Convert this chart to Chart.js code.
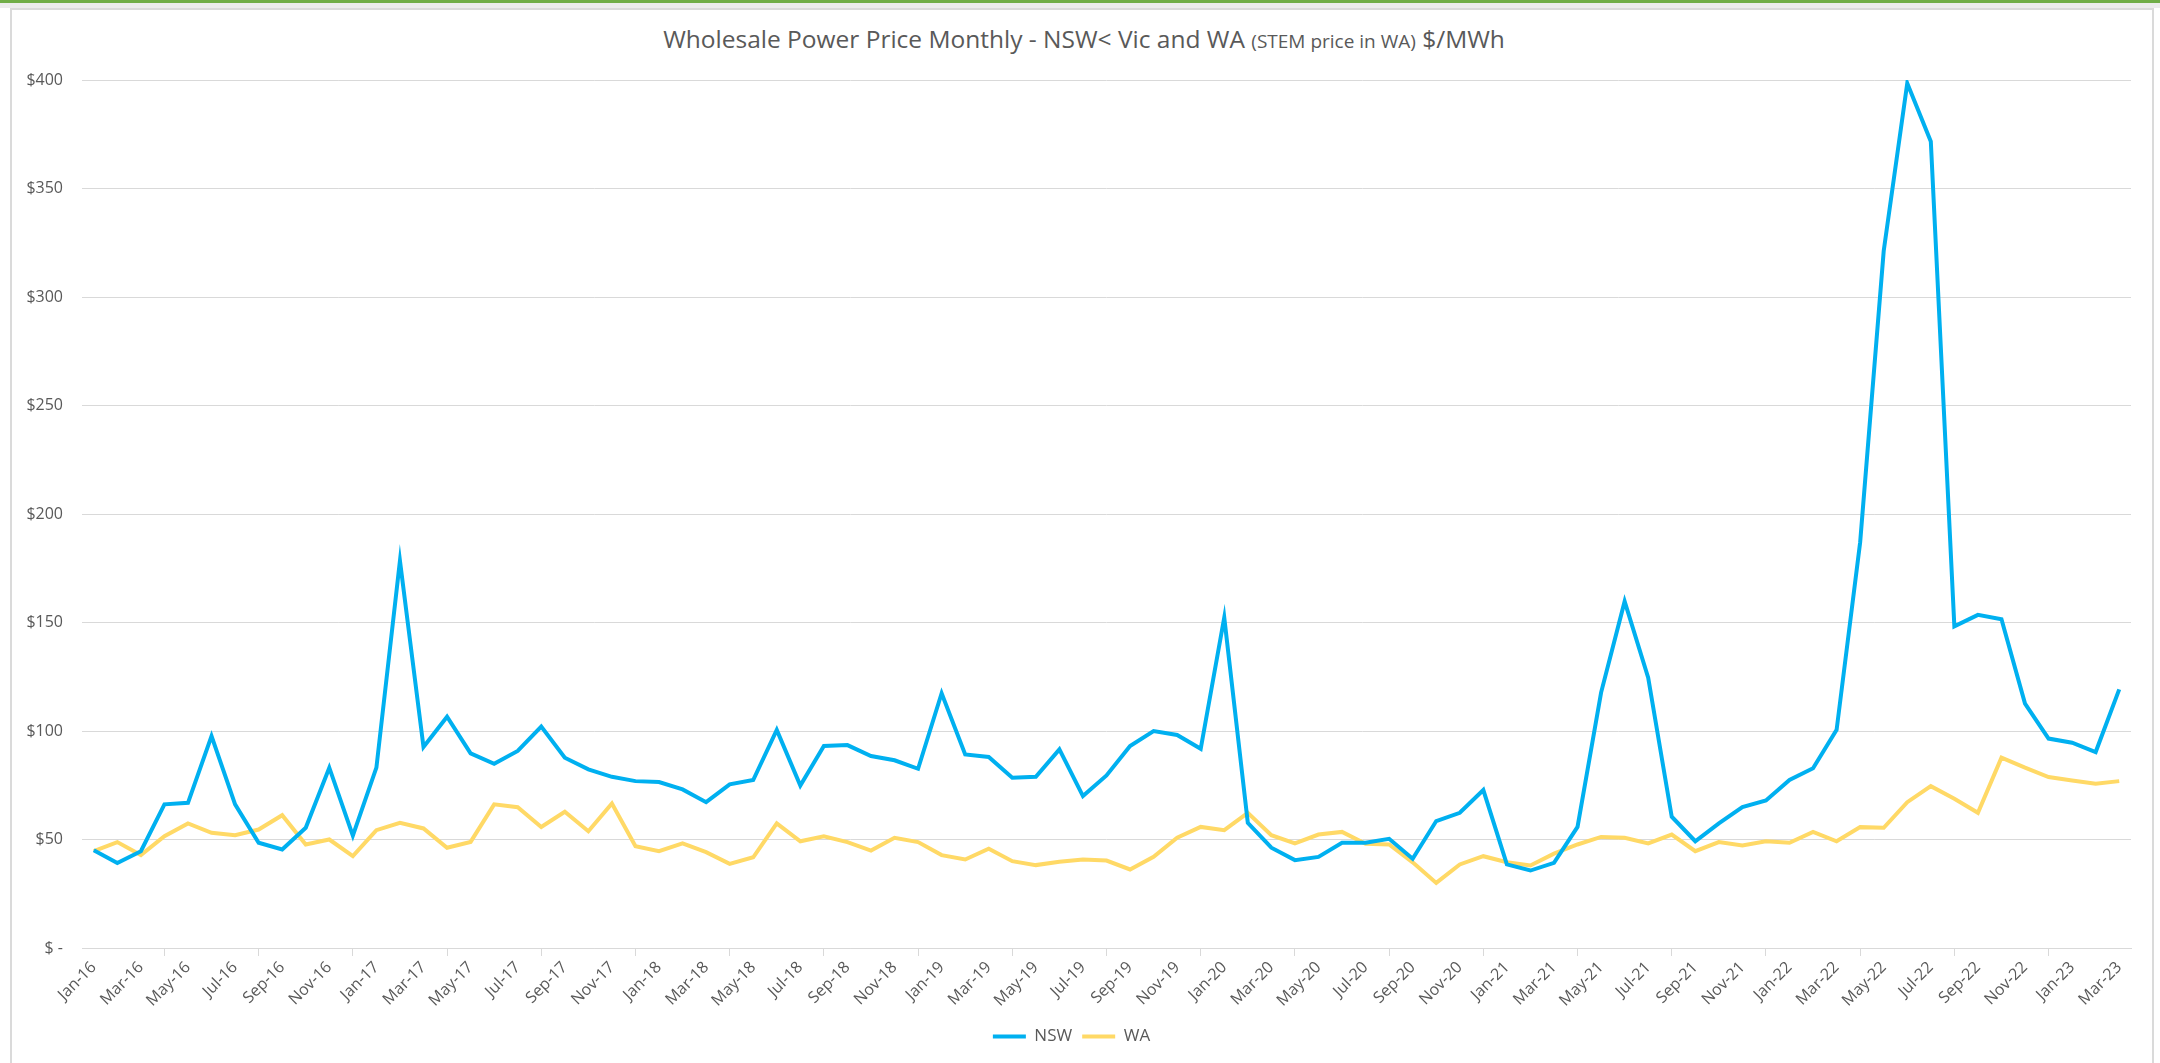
<!DOCTYPE html>
<html>
<head>
<meta charset="utf-8">
<script src="https://cdn.jsdelivr.net/npm/chart.js@4.4.1/dist/chart.umd.min.js"></script>
<style>
  html, body { margin: 0; padding: 0; background: #fff; }
  #wrap { position: relative; width: 2160px; height: 1063px; overflow: hidden; font-family: "Open Sans", sans-serif; }
  #topbar { position: absolute; left: 0; top: 0; width: 2160px; height: 3px; background: #70ad47; }
  #strip { position: absolute; left: 0; top: 3px; width: 2160px; height: 5px; background: #ececec; }
  #frame { position: absolute; left: 10px; top: 8px; width: 2144px; height: 1060px; border: 2px solid #dadada; box-sizing: border-box; }
  #title { position: absolute; left: 0; top: 22px; width: 2168px; text-align: center; color: #595959; font-size: 24.5px; white-space: nowrap; }
  #title small { font-size: 19px; }
  canvas { position: absolute; left: 0; top: 0; }
</style>
</head>
<body>
<div id="wrap">
  <div id="topbar"></div>
  <div id="strip"></div>
  <div id="frame"></div>
  <div id="title">Wholesale Power Price Monthly - NSW&lt; Vic and WA <small>(STEM price in WA)</small> $/MWh</div>
  <canvas id="priceChart" width="2160" height="1063"></canvas>
</div>
<script>
// month labels Jan-16 .. Mar-23
const monthNames = ["Jan","Feb","Mar","Apr","May","Jun","Jul","Aug","Sep","Oct","Nov","Dec"];
const years = ["16","17","18","19","20","21","22","23"];
const lastYearMonths = 3;

const labels = [];
years.forEach((y, yi) => {
  const n = yi === years.length - 1 ? lastYearMonths : 12;
  for (let m = 0; m < n; m++) labels.push(monthNames[m] + "-" + y);
});

// NSW monthly price $/MWh
const nsw = [
  45.1, 39.2, 44.6, 66.2, 66.9, 97.7, 66.2, 48.5, 45.4, 55.4, 83.1, 51.8,
  83.1, 178.5, 92.6, 106.6, 89.7, 84.9, 90.8, 102, 87.7, 82.3, 78.9, 76.9,
  76.5, 73.1, 67.2, 75.4, 77.4, 100.5, 74.9, 93.1, 93.5, 88.5, 86.5, 82.6,
  117.4, 89.2, 88, 78.5, 78.9, 91.5, 70, 79.5, 93.1, 100, 98.2, 91.8,
  152.3, 57.7, 46.2, 40.5, 42, 48.5, 48.5, 50.3, 41.1, 58.5, 62.3, 72.8,
  38.5, 35.7, 39.2, 55.8, 117.7, 159.7, 124.6, 60.5, 49.2, 57.4, 64.9, 68,
  77.4, 82.8, 100.5, 187, 321.2, 398.5, 371.7, 148.2, 153.5, 151.5, 112.6, 96.5,
  94.6, 90.3, 119.2
];

// WA STEM price $/MWh
const wa = [
  44.6, 48.8, 42.8, 51.5, 57.4, 53.1, 52, 54.6, 61.2, 47.7, 50, 42.3,
  54.3, 57.7, 55.1, 46.2, 48.9, 66.2, 64.9, 55.8, 62.8, 53.8, 66.6, 46.9,
  44.6, 48.2, 44.2, 38.8, 41.8, 57.4, 49.2, 51.5, 48.8, 44.9, 50.8, 48.8,
  42.8, 40.8, 45.8, 40, 38.2, 39.7, 40.8, 40.3, 36.2, 42, 50.8, 55.8,
  54.3, 62.3, 52, 48.2, 52.3, 53.5, 48, 47.7, 39.5, 30, 38.5, 42.3,
  39.5, 38, 43.5, 47.7, 51.2, 50.8, 48.2, 52.3, 44.6, 48.8, 47.2, 49.2,
  48.5, 53.5, 49.2, 55.7, 55.4, 67.2, 74.6, 68.8, 62.3, 87.7, 83.1, 78.8,
  77.2, 75.7, 76.9
];

const yMin = 0, yMax = 400, yStep = 50;

const gridGray = "#d9d9d9";
const textGray = "#595959";

const ctx = document.getElementById("priceChart").getContext("2d");

new Chart(ctx, {
  type: "line",
  data: {
    labels: labels,
    datasets: [
      {
        label: "NSW",
        data: nsw,
        borderColor: "#00b0f0",
        backgroundColor: "#00b0f0",
        borderWidth: 4,
        pointRadius: 0,
        tension: 0
      },
      {
        label: "WA",
        data: wa,
        borderColor: "#ffd966",
        backgroundColor: "#ffd966",
        borderWidth: 4,
        pointRadius: 0,
        tension: 0
      }
    ]
  },
  options: {
    responsive: false,
    animation: false,
    layout: { padding: { left: 12, right: 29, top: 80, bottom: 8 } },
    plugins: {
      title: { display: false },
      tooltip: { enabled: false },
      legend: {
        position: "bottom",
        labels: {
          usePointStyle: true,
          pointStyle: "line",
          pointStyleWidth: 33,
          color: textGray,
          font: { family: "Open Sans", size: 17 },
          padding: 10
        }
      }
    },
    scales: {
      x: {
        offset: true,
        afterFit: (s) => { s.height = 70; },
        grid: {
          offset: true,
          drawOnChartArea: false,
          drawTicks: true,
          tickLength: 8,
          color: (c) => (c.index % 2 === 0 ? gridGray : "rgba(0,0,0,0)")
        },
        border: { color: gridGray, width: 1 },
        ticks: {
          autoSkip: false,
          minRotation: 45,
          maxRotation: 45,
          color: textGray,
          font: { family: "Open Sans", size: 16 },
          padding: 2,
          callback: (v, i) => (i % 2 === 0 ? labels[i] : null)
        }
      },
      y: {
        min: yMin,
        max: yMax,
        afterFit: (s) => { s.width = 70; },
        grid: { color: gridGray, lineWidth: 1, drawTicks: false },
        border: { display: false },
        ticks: {
          stepSize: yStep,
          padding: 19,
          color: textGray,
          font: { family: "Open Sans", size: 16 },
          callback: (v) => (v === 0 ? "$ -" : "$" + v)
        }
      }
    }
  }
});
</script>
</body>
</html>
